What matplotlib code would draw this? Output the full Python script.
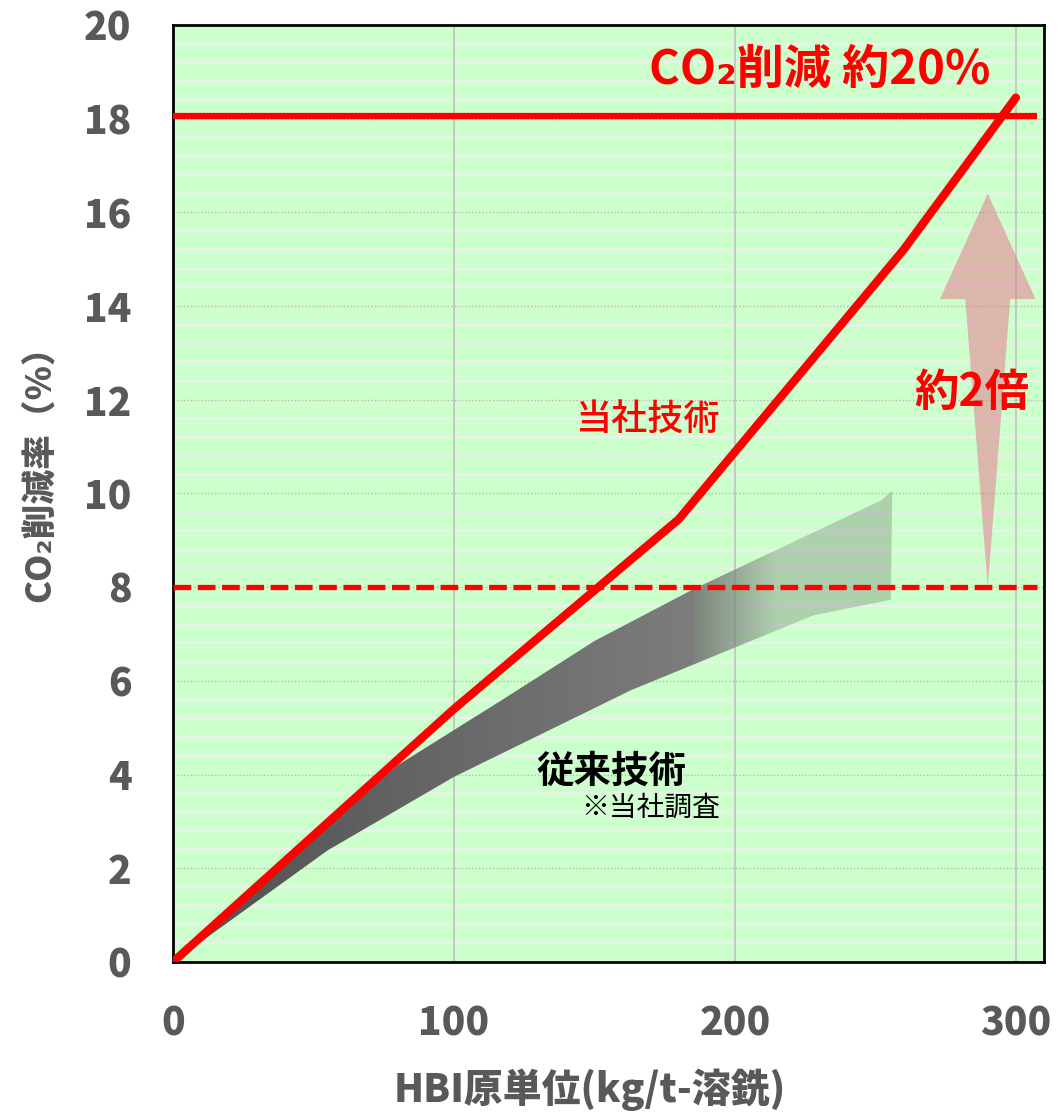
import numpy as np
import matplotlib
matplotlib.use('Agg')
import matplotlib.pyplot as plt
from matplotlib.patches import Polygon
from matplotlib.ticker import MultipleLocator

plt.rcParams['font.family'] = ['Noto Sans CJK JP', 'DejaVu Sans']

# our technology curve
hbi = [0, 100, 180, 260, 300]
ours = [0, 5.4, 9.45, 15.2, 18.45]

# conventional technology band (upper / lower edges)
conv_up_x = [0, 80, 116, 150, 185, 252, 256]
conv_up_y = [0, 4.2, 5.55, 6.85, 7.95, 9.85, 10.05]
conv_lo_x = [0, 55, 100, 163, 228, 255.5]
conv_lo_y = [0, 2.38, 3.95, 5.8, 7.4, 7.73]

target_line = 18.05
conv_line = 8.0

# "about 2x" arrow: tip, head base, top
arrow_x = 290
arrow_tip, arrow_base, arrow_top = 8.0, 14.15, 16.4
arrow_shaft_half, arrow_head_half = 8, 17

xticks = [0, 100, 200, 300]
yticks = list(range(0, 21, 2))

fig = plt.figure(figsize=(10.62, 11.12), dpi=100)
ax = fig.add_axes([0.163, 0.135, 0.82, 0.8425])
ax.set_facecolor('#ccffcc')
ax.set_xlim(0, 310)
ax.set_ylim(0, 20)

# grid
ax.yaxis.set_minor_locator(MultipleLocator(0.4))
ax.grid(axis='y', which='minor', color='#eeeeee', lw=1.6, zorder=0)
ax.grid(axis='y', which='major', color='#b8b8b8', lw=1.0, ls=(0, (1, 1.5)), zorder=0)
ax.set_axisbelow(True)
for xv in xticks[1:]:
    ax.axvline(xv, color='#c0c0c0', lw=1.2, zorder=1)

# conventional band with gradient
band = Polygon(list(zip(conv_up_x, conv_up_y)) + list(zip(conv_lo_x[::-1], conv_lo_y[::-1])),
               closed=True, facecolor='none', edgecolor='none')
ax.add_patch(band)
xs = np.linspace(0, 260, 521)
rgba = np.zeros((2, len(xs), 4))
g = np.where(xs < 185, 0.31 + 0.18 * xs / 185, 0.49)
a = np.clip(1 - (xs - 185) / 30 * 0.62, 0.38, 1.0)
rgba[..., 0] = g
rgba[..., 1] = g + np.where(xs > 185, 0.02, 0)
rgba[..., 2] = g
rgba[..., 3] = a
im = ax.imshow(rgba, extent=[0, 260, 0, 10.2], aspect='auto', origin='lower',
               interpolation='bilinear', zorder=2)
im.set_clip_path(band)

# arrow
arrow = Polygon([(arrow_x, arrow_tip), (arrow_x + arrow_shaft_half, arrow_base),
                 (arrow_x + arrow_head_half, arrow_base), (arrow_x, arrow_top),
                 (arrow_x - arrow_head_half, arrow_base), (arrow_x - arrow_shaft_half, arrow_base)],
                closed=True, facecolor=(0.9, 0.45, 0.55), alpha=0.5, edgecolor='none', zorder=2)
ax.add_patch(arrow)

ax.plot([0, 307.5], [target_line, target_line], color='red', lw=4.5, zorder=4, solid_capstyle='butt')
ax.plot([0, 307.5], [conv_line, conv_line], color='red', lw=3.8, ls=(0, (3.35, 1.25)), zorder=4)
ax.plot(hbi, ours, color='red', lw=6, zorder=5, solid_capstyle='round', solid_joinstyle='round')

ax.set_xticks(xticks)
ax.set_yticks(yticks)
ax.tick_params(which='both', length=0, labelsize=28, labelcolor='#595959', pad=30)
for lab in ax.get_xticklabels() + ax.get_yticklabels():
    lab.set_fontweight('heavy')
for s in ax.spines.values():
    s.set_color('black')
    s.set_linewidth(2)

ax.text(230, 19.05, 'CO₂削減 約20%', color='red', fontsize=34, fontweight='bold',
        ha='center', va='center', zorder=6)
ax.text(284.3, 12.15, '約2倍', color='red', fontsize=32, fontweight='bold',
        ha='center', va='center', zorder=6)
ax.text(169, 11.57, '当社技術', color='red', fontsize=26, fontweight='medium',
        ha='center', va='center', zorder=6)
ax.text(156, 4.06, '従来技術', color='black', fontsize=27, fontweight='bold',
        ha='center', va='center', zorder=6)
ax.text(170, 3.29, '※当社調査', color='black', fontsize=20, ha='center', va='center', zorder=6)

fig.text(590 / 1062, 1 - 1090 / 1112, 'HBI原単位(kg/t-溶銑)', color='#595959', fontsize=28,
         fontweight='heavy', ha='center', va='center')
fig.text(40 / 1062, 1 - 465 / 1112, 'CO₂削減率（%）', color='#595959', fontsize=25,
         fontweight='heavy', ha='center', va='center', rotation=90)

fig.savefig('out.png', dpi=100)
